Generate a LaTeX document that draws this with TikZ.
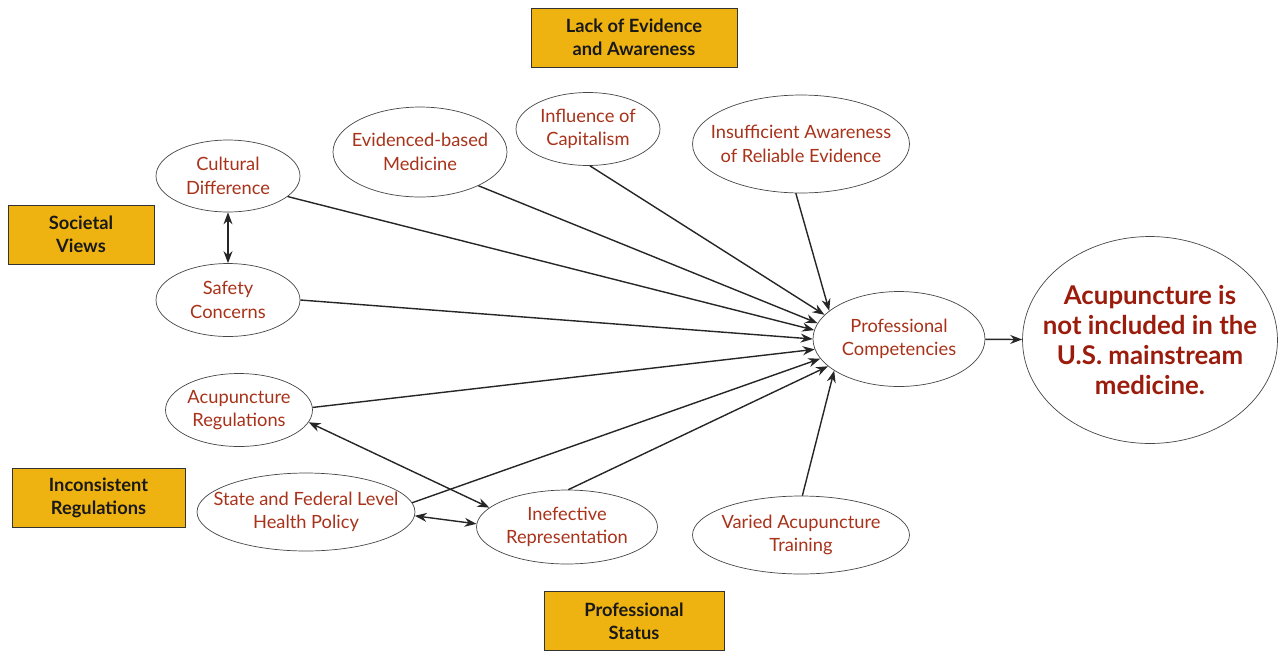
\documentclass[tikz,border=0pt]{standalone}
\usepackage{fontspec}
\setmainfont{Lato}
\usepackage{tikz}
\usetikzlibrary{arrows.meta,shapes.geometric}
\definecolor{boxgold}{RGB}{239,179,17}
\definecolor{textred}{RGB}{168,50,26}
\definecolor{bigred}{RGB}{155,28,12}
\definecolor{rimgray}{RGB}{70,70,70}
\tikzset{
%Define standard arrow tip
>={Stealth[length=2.4mm,width=1.8mm]},
%Define styles for the theme boxes and the factor ellipses
theme box/.style={draw=black!80, fill=boxgold, inner sep=0pt, align=center,
text=black!90, font=\bfseries\fontsize{10.4}{13.2}\selectfont},
%negative inner sep: the ellipse size is set by minimum width/height only
factor/.style={ellipse, draw=rimgray, fill=white, inner sep=-2cm, align=center,
text=textred, font=\fontsize{10.4}{13.4}\selectfont},
%Define style for the connectors
link/.style={->, thick, black!85}, both link/.style={<->, thick, black!85}, }

\begin{document}
\begin{tikzpicture}[x=0.02cm, y=-0.02cm]

\useasboundingbox (0,0) rectangle (1279,650);

% the four themes
\node[theme box, minimum width=4.12cm, minimum height=1.18cm] (lack) at (634,37.5)
{Lack of Evidence\\and Awareness};
\node[theme box, minimum width=2.92cm, minimum height=1.18cm] (soc) at (81,234.5)
{Societal\\Views};
\node[theme box, minimum width=3.46cm, minimum height=1.18cm] (inc) at (98.5,497.5)
{Inconsistent\\Regulations};
\node[theme box, minimum width=3.60cm, minimum height=1.18cm] (sta) at (634,621)
{Professional\\Status};

% the factors
\node[factor, minimum width=2.88cm, minimum height=1.44cm] (cd) at (228,176)
{Cultural\\Difference};
\node[factor, minimum width=2.88cm, minimum height=1.46cm] (sc) at (228,300)
{Safety\\Concerns};
\node[factor, minimum width=3.48cm, minimum height=1.80cm] (ebm) at (420,152)
{Evidenced-based\\Medicine};
\node[factor, minimum width=2.88cm, minimum height=1.46cm] (cap) at (588,129)
{Influence of\\Capitalism};
\node[factor, minimum width=4.34cm, minimum height=1.96cm] (ins) at (801,144)
{Insufficient Awareness\\of Reliable Evidence};
\node[factor, minimum width=2.94cm, minimum height=1.46cm] (reg) at (239,410)
{Acupuncture\\Regulations};
\node[factor, minimum width=4.36cm, minimum height=1.56cm] (pol) at (306,512)
{State and Federal Level\\Health Policy};
\node[factor, minimum width=3.62cm, minimum height=1.48cm] (rep) at (567,527)
{Inefective\\Representation};
\node[factor, minimum width=4.34cm, minimum height=1.56cm] (trn) at (801,535)
{Varied Acupuncture\\Training};
\node[factor, minimum width=3.44cm, minimum height=1.90cm] (pc) at (899,339)
{Professional\\Competencies};
\node[factor, minimum width=5.10cm, minimum height=4.14cm, text=bigred,
font=\bfseries\fontsize{14.7}{17.2}\selectfont] (out) at (1150,340)
{Acupuncture is\\not included in the\\U.S. mainstream\\medicine.};

% links into the competencies
\draw[link] (cd.-19) -- (pc.174);
\draw[link] (ebm.-30) -- (pc.169);
\draw[link] (cap.-87) -- (pc.162);
\draw[link] (ins.-96) -- (pc.158);
\draw[link] (sc.0) -- (pc.180);
\draw[link] (reg.2) -- (pc.187);
\draw[link] (pol.5) -- (pc.194);
\draw[link] (rep.88) -- (pc.201);
\draw[link] (trn.88) -- (pc.206);
\draw[link] (pc) -- (out);

% two-way links
\draw[both link] (cd) -- (sc);
\draw[both link] (reg.-10) -- (rep.166);
\draw[both link] (pol.-2) -- (rep.178);

\end{tikzpicture}
\end{document}
